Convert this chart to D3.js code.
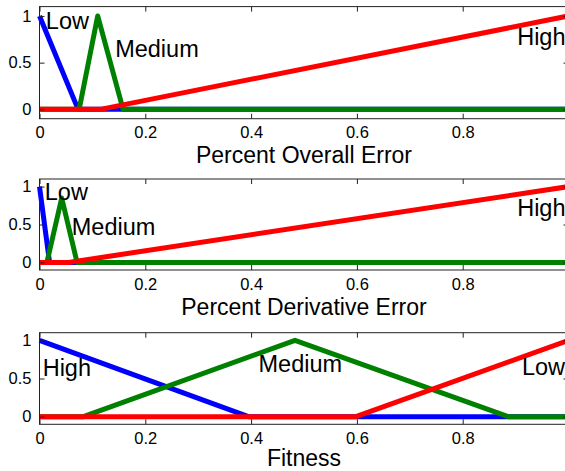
<!DOCTYPE html>
<html>
<head>
<meta charset="utf-8">
<script src="https://cdn.jsdelivr.net/npm/d3@7"></script>
<style>
  html, body { margin: 0; padding: 0; background: #fff; }
  svg { display: block; font-family: "Liberation Sans", Arial, Helvetica, sans-serif; }
</style>
</head>
<body>
<svg id="chart" width="565" height="471"></svg>
<script>
// Axis ticks shared by all three panels
const xTicks = [0, 0.2, 0.4, 0.6, 0.8, 1];
const yTicks = [0, 0.5, 1];

// Membership functions: breakpoints (x) and membership degree (y)
const overallLowX   = [0, 0.073, 1];
const overallLowY   = [1, 0, 0];
const overallMedX   = [0, 0.075, 0.11, 0.158, 1];
const overallMedY   = [0, 0, 1, 0, 0];
const overallHighX  = [0, 0.115, 1];
const overallHighY  = [0, 0, 1];

const derivLowX     = [0, 0.019, 1];
const derivLowY     = [1, 0, 0];
const derivMedX     = [0, 0.014, 0.042, 0.071, 1];
const derivMedY     = [0, 0, 0.85, 0, 0];
const derivHighX    = [0, 0.055, 1];
const derivHighY    = [0, 0, 1];

const fitHighX      = [0, 0.395, 1];
const fitHighY      = [1, 0, 0];
const fitMedX       = [0, 0.083, 0.483, 0.886, 1];
const fitMedY       = [0, 0, 1, 0, 0];
const fitLowX       = [0, 0.598, 1];
const fitLowY       = [0, 0, 1];

// Axis titles and set names
const titles = ["Percent Overall Error", "Percent Derivative Error", "Fitness"];
const setNames = [
  ["Low", "Medium", "High"],
  ["Low", "Medium", "High"],
  ["High", "Medium", "Low"]
];
// where each set name is written, in data units [x, y]
const setNameAt = [
  [[0.012, 0.86], [0.143, 0.56], [0.903, 0.69]],
  [[0.010, 0.82], [0.061, 0.36], [0.903, 0.61]],
  [[0.006, 0.53], [0.414, 0.59], [0.912, 0.55]]
];

const panels = [
  { top: 6.6,   height: 112.1, titleGap: 44.5, series: [[overallLowX, overallLowY], [overallMedX, overallMedY], [overallHighX, overallHighY]] },
  { top: 179,   height: 91,    titleGap: 44.5, series: [[derivLowX, derivLowY], [derivMedX, derivMedY], [derivHighX, derivHighY]] },
  { top: 332.7, height: 91.6,  titleGap: 41.5, series: [[fitHighX, fitHighY], [fitMedX, fitMedY], [fitLowX, fitLowY]] }
];
const colors = ["#0000ff", "#008000", "#ff0000"];

const svg = d3.select("#chart");
svg.append("rect").attr("width", 565).attr("height", 471).attr("fill", "#fff");

const left = 39.5, right = 568.5, tickLen = 5;
const x = d3.scaleLinear().domain([0, 1]).range([left, right]);

panels.forEach((p, i) => {
  const y = d3.scaleLinear().domain([-0.1, 1.1]).range([p.top + p.height, p.top]);
  const g = svg.append("g");

  // series lines
  const line = d3.line().x(d => x(d[0])).y(d => y(d[1]));
  p.series.forEach((s, k) => {
    const pts = s[0].map((v, j) => [v, s[1][j]]);
    g.append("path")
      .attr("d", line(pts))
      .attr("fill", "none")
      .attr("stroke", colors[k])
      .attr("stroke-width", 5)
      .attr("stroke-linejoin", "round");
  });

  // box and inward ticks
  const bottom = p.top + p.height;
  const axisCol = "#222";
  g.append("rect")
    .attr("x", left).attr("y", p.top)
    .attr("width", right - left).attr("height", p.height)
    .attr("fill", "none").attr("stroke", axisCol).attr("stroke-width", 1);

  const xb = d3.axisBottom(x).tickValues(xTicks).tickSizeInner(-tickLen).tickSizeOuter(0)
    .tickPadding(8).tickFormat(d => d === 1 ? "" : d3.format("~g")(d));
  const gx = g.append("g").attr("transform", `translate(0,${bottom})`).call(xb);
  const xt = d3.axisTop(x).tickValues(xTicks).tickSizeInner(-tickLen).tickSizeOuter(0).tickFormat("");
  const gxt = g.append("g").attr("transform", `translate(0,${p.top})`).call(xt);

  const yl = d3.axisLeft(y).tickValues(yTicks).tickSizeInner(-tickLen).tickSizeOuter(0)
    .tickPadding(8).tickFormat(d3.format("~g"));
  const gy = g.append("g").attr("transform", `translate(${left},0)`).call(yl);
  const yr = d3.axisRight(y).tickValues(yTicks).tickSizeInner(-tickLen).tickSizeOuter(0).tickFormat("");
  const gyr = g.append("g").attr("transform", `translate(${right},0)`).call(yr);

  [gx, gxt, gy, gyr].forEach(a => {
    a.select(".domain").remove();
    a.selectAll("line").attr("stroke", axisCol);
    a.selectAll("text").attr("fill", "#000").style("font-size", "16.5px")
      .style("font-family", "'Liberation Sans', Arial, sans-serif");
  });

  // set names
  setNames[i].forEach((name, k) => {
    g.append("text")
      .attr("x", x(setNameAt[i][k][0]))
      .attr("y", y(setNameAt[i][k][1]))
      .style("font-size", "23.5px")
      .attr("fill", "#000")
      .text(name);
  });

  // axis title
  svg.append("text")
    .attr("x", (left + right) / 2)
    .attr("y", bottom + p.titleGap)
    .attr("text-anchor", "middle")
    .style("font-size", "23px")
    .attr("fill", "#000")
    .text(titles[i]);
});
</script>
</body>
</html>
